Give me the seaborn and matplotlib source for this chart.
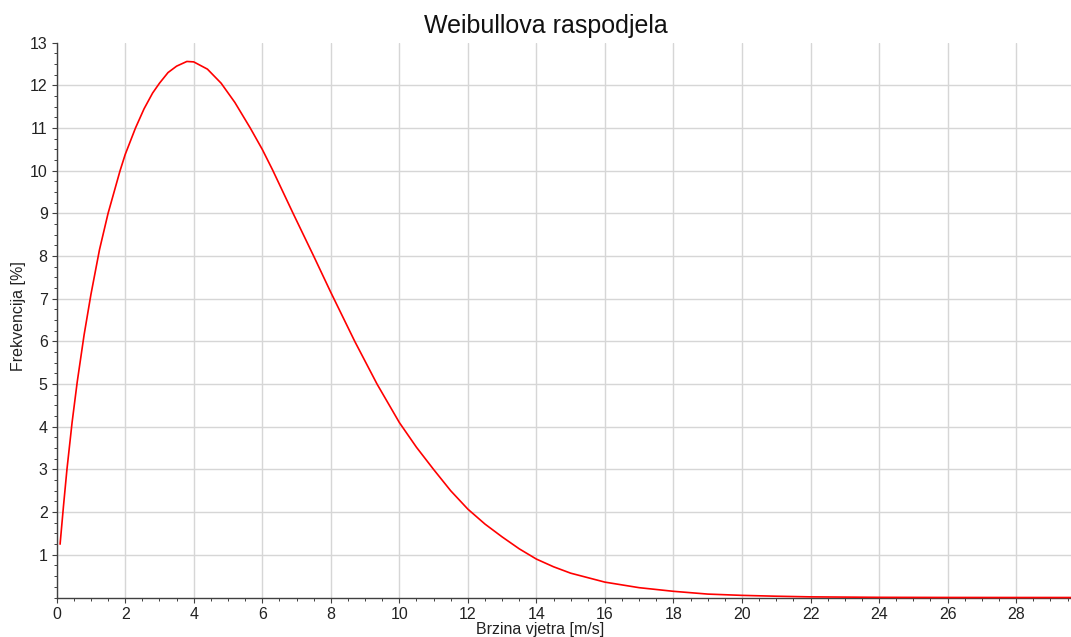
import matplotlib
matplotlib.use("Agg")
import matplotlib.pyplot as plt
import seaborn as sns
from matplotlib.ticker import MultipleLocator

# ================== DATA ==================
brzina = [0.1, 0.2, 0.3, 0.45, 0.6, 0.8, 1.0, 1.25, 1.5, 1.85, 2.0, 2.3, 2.55, 2.8,
          3.0, 3.25, 3.5, 3.8, 4.0, 4.4, 4.8, 5.2, 5.65, 6.0, 6.3, 6.9, 7.5, 8.0,
          8.7, 9.35, 10.0, 10.5, 11.0, 11.5, 12.0, 12.5, 13.0, 13.5, 14.0, 14.5,
          15.0, 16.0, 17.0, 18.0, 19.0, 20.0, 21.0, 22.0, 24.0, 26.0, 28.0, 29.6]
frekvencija = [1.25, 2.15, 3.0, 4.1, 5.05, 6.15, 7.1, 8.15, 9.0, 10.0, 10.38, 11.0, 11.45, 11.82,
               12.05, 12.3, 12.45, 12.56, 12.55, 12.38, 12.05, 11.6, 11.0, 10.5, 10.02, 9.0, 8.0, 7.15,
               6.0, 5.0, 4.1, 3.52, 3.0, 2.5, 2.07, 1.72, 1.42, 1.14, 0.9, 0.72,
               0.57, 0.36, 0.23, 0.145, 0.08, 0.05, 0.03, 0.015, 0.004, 0.001, 0.0, 0.0]

x_ticks = list(range(0, 30, 2))
y_ticks = list(range(1, 14))

# ================== STYLE ==================
sns.set_theme(style="white")
plt.rcParams["font.family"] = ["Liberation Sans", "DejaVu Sans"]

fig = plt.figure(figsize=(10.71, 6.37), dpi=100)
ax = fig.add_axes([0.0529, 0.062, 0.9471, 0.871])

sns.lineplot(x=brzina, y=frekvencija, color="#ff0000", linewidth=1.2, ax=ax,
             clip_on=False, zorder=5)

ax.set_xlim(0, 29.6)
ax.set_ylim(0, 13)
ax.set_xticks(x_ticks)
ax.set_yticks(y_ticks)
ax.xaxis.set_minor_locator(MultipleLocator(0.5))
ax.yaxis.set_minor_locator(MultipleLocator(0.25))

ax.grid(True, which="major", color="#d6d6d6", linewidth=1.0)
ax.get_ygridlines()[-1].set_visible(False)

for side in ["top", "right"]:
    ax.spines[side].set_visible(False)
for side in ["left", "bottom"]:
    ax.spines[side].set_color("#404040")
    ax.spines[side].set_linewidth(1.0)

ax.tick_params(which="major", direction="out", length=3.5, width=0.8, color="#404040",
               labelsize=11.5, labelcolor="#222222", pad=3, left=True, bottom=True)
ax.tick_params(which="minor", direction="out", length=2, width=0.7, color="#404040",
               left=True, bottom=True)

ax.set_xlabel("")
ax.set_ylabel("")
fig.text(0.51, 0.948, "Weibullova raspodjela", ha="center", va="baseline",
         fontsize=18, color="#111111")
fig.text(0.504, 0.005, "Brzina vjetra [m/s]", ha="center", va="baseline",
         fontsize=11.5, color="#222222")
fig.text(0.017, 0.504, "Frekvencija [%]", ha="center", va="center", rotation=90,
         fontsize=11.5, color="#222222")

fig.savefig("out.png", dpi=100)
